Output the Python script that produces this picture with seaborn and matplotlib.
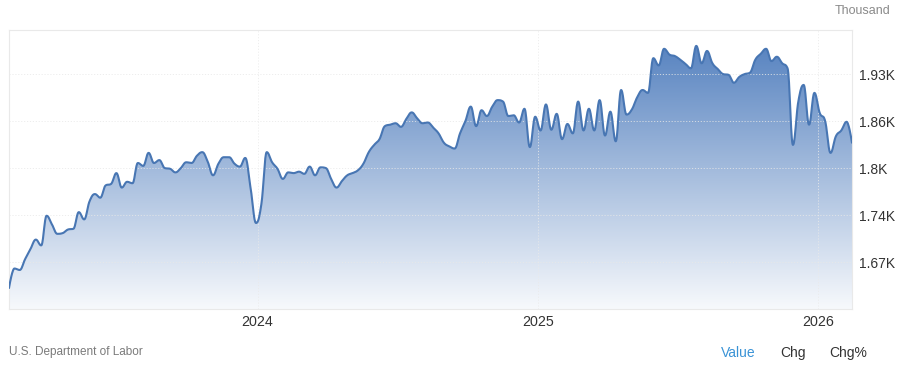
import numpy as np
import pandas as pd
import matplotlib
matplotlib.use("Agg")
import matplotlib.pyplot as plt
import matplotlib.dates as mdates
from matplotlib.colors import LinearSegmentedColormap
import seaborn as sns

# ---------------- data (continuing claims, thousands, weekly) ----------------
start_date = "2023-02-11"
claims = [
    1634, 1661, 1659, 1674, 1688, 1701, 1693, 1734, 1722, 1709,
    1710, 1715, 1716, 1739, 1729, 1754, 1764, 1759, 1776, 1778,
    1793, 1773, 1781, 1779, 1807, 1803, 1821, 1807, 1811, 1800,
    1799, 1794, 1800, 1808, 1807, 1817, 1822, 1809, 1790, 1806,
    1815, 1815, 1806, 1802, 1814, 1772, 1724, 1750, 1822, 1808,
    1799, 1785, 1794, 1793, 1795, 1792, 1802, 1790, 1801, 1800,
    1785, 1773, 1782, 1790, 1793, 1797, 1806, 1822, 1832, 1840,
    1858, 1860, 1862, 1857, 1868, 1877, 1869, 1862, 1863, 1856,
    1848, 1835, 1830, 1827, 1848, 1865, 1885, 1858, 1880, 1872,
    1885, 1894, 1892, 1872, 1873, 1863, 1882, 1829, 1871, 1852,
    1888, 1853, 1875, 1840, 1861, 1848, 1892, 1852, 1882, 1852,
    1894, 1845, 1878, 1837, 1908, 1874, 1881, 1898, 1908, 1904,
    1952, 1942, 1965, 1957, 1955, 1950, 1944, 1938, 1969, 1945,
    1962, 1945, 1937, 1930, 1929, 1918, 1926, 1930, 1932, 1950,
    1958, 1965, 1948, 1954, 1945, 1938, 1832, 1892, 1915, 1860,
    1904, 1876, 1865, 1821, 1844, 1852, 1864, 1835,
]
y_ticks = [1670, 1735, 1800, 1865, 1930]
y_tick_labels = ["1.67K", "1.74K", "1.8K", "1.86K", "1.93K"]
x_tick_years = ["2024", "2025", "2026"]
y_min, y_max = 1605, 1991

dates = pd.date_range(start_date, periods=len(claims), freq="7D")
df = pd.DataFrame({"date": dates, "value": claims})


def spline(x, y, n=16, smoothing=1.5):
    """Highcharts-style spline (bezier with clamped control points)."""
    x = np.asarray(x, float)
    y = np.asarray(y, float)
    N = len(x)
    denom = smoothing + 1
    lc = np.column_stack([x, y]).copy()
    rc = np.column_stack([x, y]).copy()
    for i in range(1, N - 1):
        px, py = x[i], y[i]
        lx, ly = x[i - 1], y[i - 1]
        nx, ny = x[i + 1], y[i + 1]
        lcx = (smoothing * px + lx) / denom
        lcy = (smoothing * py + ly) / denom
        rcx = (smoothing * px + nx) / denom
        rcy = (smoothing * py + ny) / denom
        corr = (rcy - lcy) * (rcx - px) / (rcx - lcx) + py - rcy
        lcy += corr
        rcy += corr
        if lcy > ly and lcy > py:
            lcy = max(ly, py); rcy = 2 * py - lcy
        elif lcy < ly and lcy < py:
            lcy = min(ly, py); rcy = 2 * py - lcy
        if rcy > ny and rcy > py:
            rcy = max(ny, py); lcy = 2 * py - rcy
        elif rcy < ny and rcy < py:
            rcy = min(ny, py); lcy = 2 * py - rcy
        lc[i] = (lcx, lcy)
        rc[i] = (rcx, rcy)
    t = np.linspace(0, 1, n, endpoint=False)[:, None]
    pts = []
    for i in range(N - 1):
        p0 = np.array([x[i], y[i]]); p3 = np.array([x[i + 1], y[i + 1]])
        p1 = rc[i]; p2 = lc[i + 1]
        b = ((1 - t) ** 3) * p0 + 3 * ((1 - t) ** 2) * t * p1 + 3 * (1 - t) * t ** 2 * p2 + t ** 3 * p3
        pts.append(b)
    pts.append(np.array([[x[-1], y[-1]]]))
    pts = np.vstack(pts)
    return pts[:, 0], pts[:, 1]


xnum = mdates.date2num(df["date"])
sx, sy = spline(xnum, df["value"].values)
smooth = pd.DataFrame({"x": sx, "y": sy})

# ---------------- figure ----------------
sns.set_theme(style="white")
plt.rcParams["font.family"] = ["Liberation Sans", "DejaVu Sans"]

W, H = 900, 368
fig = plt.figure(figsize=(W / 100, H / 100), dpi=100)
fig.patch.set_facecolor("white")
ax = fig.add_axes([9 / W, 1 - 309 / H, 843 / W, 279 / H])
ax.set_facecolor("white")

x0, x1 = xnum[0], xnum[-1]
ax.set_xlim(x0, x1)
ax.set_ylim(y_min, y_max)

# gradient fill clipped to the area under the curve
poly = ax.fill_between(sx, sy, y_min, facecolor="none", edgecolor="none")
cmap = LinearSegmentedColormap.from_list(
    "g", [(0.0, "#f7f9fc"), (1.0, "#4f7dbd")])
grad = np.linspace(0, 1, 256)[:, None]
im = ax.imshow(grad, cmap=cmap, aspect="auto", origin="lower",
               extent=[x0, x1, y_min, y_max], zorder=1, interpolation="bicubic")
im.set_clip_path(poly.get_paths()[0], transform=ax.transData)

# grid
year_pos = [mdates.date2num(pd.Timestamp(f"{y}-01-01")) for y in x_tick_years]
for yv in y_ticks:
    ax.axhline(yv, color="#e8e8e8", lw=0.7, ls=(0, (1.2, 1.8)), alpha=0.8, zorder=2)
for xv in year_pos:
    ax.axvline(xv, color="#eaeaea", lw=0.7, ls=(0, (1.2, 1.8)), alpha=0.8, zorder=2)

sns.lineplot(data=smooth, x="x", y="y", ax=ax, color="#4876b3", lw=1.5,
             estimator=None, sort=False, zorder=3)

ax.set_xlabel("")
ax.set_ylabel("")
ax.set_xticks(year_pos)
ax.set_xticklabels(x_tick_years)
ax.yaxis.tick_right()
ax.set_yticks(y_ticks)
ax.set_yticklabels(y_tick_labels)
ax.tick_params(axis="y", length=0, pad=5, labelsize=10, labelcolor="#333333")
ax.tick_params(axis="x", length=0, pad=4, labelsize=10.3, labelcolor="#333333")
ax.grid(False)
for s in ax.spines.values():
    s.set_color("#e9e9e9")
    s.set_linewidth(0.8)

fig.text(890 / W, 1 - 11 / H, "Thousand", ha="right", va="center",
         fontsize=9, color="#8a8a8a")
fig.text(9 / W, 1 - 352 / H, "U.S. Department of Labor", ha="left", va="center",
         fontsize=8.5, color="#7a7a7a")
fig.text(721 / W, 1 - 353 / H, "Value", ha="left", va="center",
         fontsize=10, color="#3a93d6")
fig.text(780 / W, 1 - 353 / H, "Chg", ha="left", va="center",
         fontsize=10, color="#333333")
fig.text(829 / W, 1 - 353 / H, "Chg%", ha="left", va="center",
         fontsize=10, color="#333333")

fig.savefig("out.png", dpi=100, facecolor="white")
